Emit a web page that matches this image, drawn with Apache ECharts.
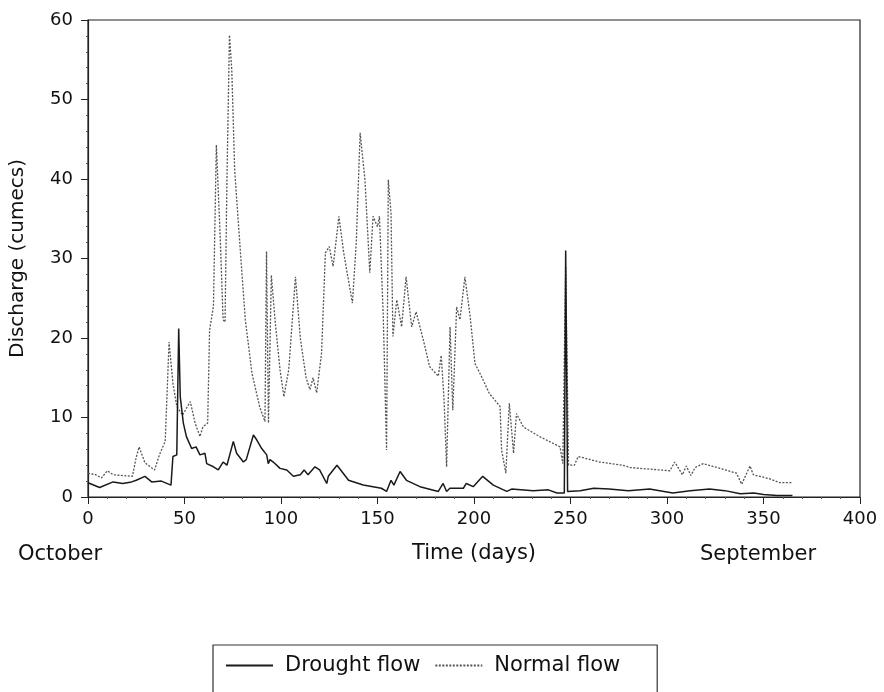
<!DOCTYPE html>
<html>
<head>
<meta charset="utf-8">
<script src="https://cdn.jsdelivr.net/npm/echarts@6/dist/echarts.min.js"></script>
<style>
  html, body { margin: 0; padding: 0; background: #fff; }
  #chart { width: 884px; height: 692px; }
</style>
</head>
<body>
<div id="chart"></div>
<script>
// day of water year (October = 0) and discharge in cumecs
const droughtDays = [0, 6, 13, 18, 22.6, 25, 29.5, 33, 38, 43, 44, 46, 47, 47.8, 49.4, 51, 53.7, 56, 58, 60.6, 61.5, 65, 67.5, 70, 72, 75.3, 77, 80.5, 82, 85.7, 87.4, 90, 92.6, 93.4, 94.3, 96, 99.5, 103, 106.4, 110, 112, 114, 117.6, 120, 123.7, 124.5, 129, 135, 142.6, 152, 154.7, 157, 158.5, 161.7, 165, 172, 181.5, 184, 185.8, 187.5, 194.5, 196, 199.6, 204.5, 210, 217, 219.5, 230.7, 238.5, 243, 246.8, 247.5, 248.5, 255, 262, 270, 280, 291, 303, 312, 322, 330, 338, 345, 350, 357, 365];
const droughtFlow = [1.8, 1.2, 1.9, 1.7, 1.9, 2.1, 2.6, 1.9, 2.0, 1.5, 5.1, 5.3, 21.2, 12.6, 9.3, 7.6, 6.1, 6.3, 5.3, 5.5, 4.2, 3.8, 3.4, 4.4, 4.0, 7.0, 5.5, 4.4, 4.7, 7.8, 7.2, 6.1, 5.3, 4.2, 4.7, 4.4, 3.6, 3.4, 2.6, 2.8, 3.4, 2.8, 3.8, 3.4, 1.7, 2.6, 4.0, 2.1, 1.5, 1.1, 0.7, 2.1, 1.5, 3.2, 2.1, 1.3, 0.7, 1.7, 0.7, 1.1, 1.1, 1.7, 1.3, 2.6, 1.5, 0.7, 1.0, 0.8, 0.9, 0.5, 0.5, 31, 0.7, 0.8, 1.1, 1.0, 0.8, 1.0, 0.5, 0.8, 1.0, 0.8, 0.4, 0.5, 0.3, 0.2, 0.2];

const normalDays = [0, 4, 7, 10, 13, 18, 23, 25, 26.5, 29.5, 34.5, 37, 40, 42, 44, 46, 49, 53, 55.5, 58, 59.5, 62, 63, 65, 66.5, 68.5, 70, 71, 72, 73.3, 74.5, 76, 79, 81.5, 85, 89, 91.7, 92.5, 93.5, 95, 97, 99.5, 101.5, 104, 107.5, 110, 113, 115, 116.6, 118.5, 121, 123, 125, 127, 130, 132.5, 137, 139, 141, 143.5, 146, 147.7, 150, 151, 153, 154.7, 155.6, 157, 158, 160, 162.5, 164.8, 167.7, 170, 174, 177, 181.5, 183, 184.5, 185.8, 187.6, 189, 191, 192.7, 195.3, 198, 200.5, 204, 208, 213.5, 214.3, 216.5, 218.3, 220.5, 222, 225.6, 234, 244.6, 246, 247.5, 249, 252, 254, 265, 277, 281, 301.5, 304, 308, 310, 312.4, 314.5, 318.8, 336, 338.7, 343, 344.7, 353, 358.5, 365];
const normalFlow = [3.0, 2.8, 2.4, 3.3, 2.8, 2.7, 2.6, 5.0, 6.3, 4.3, 3.4, 5.3, 7.0, 19.5, 14.3, 11.4, 10.3, 12.0, 9.3, 7.6, 8.8, 9.3, 21, 24, 44.3, 32.7, 22.3, 22.0, 40, 58.1, 53.7, 41.1, 30.7, 22.3, 15.5, 11.3, 9.5, 30.9, 9.3, 27.9, 22, 16, 12.6, 16, 27.7, 20, 15, 13.5, 15.0, 13.1, 18.1, 30.7, 31.5, 29, 35.3, 30.7, 24.4, 32, 45.8, 39.9, 28.2, 35.3, 34, 35.3, 22.7, 5.9, 39.9, 35.7, 20.2, 24.8, 21.4, 27.7, 21.4, 23.3, 19.5, 16.4, 15.2, 17.8, 12.2, 3.8, 21.4, 10.9, 23.9, 22.3, 27.7, 22.7, 16.8, 15.1, 13.0, 11.4, 5.9, 3.0, 11.8, 5.5, 10.5, 8.8, 7.6, 6.3, 4.2, 29, 4.0, 4.0, 5.1, 4.4, 4.0, 3.7, 3.3, 4.4, 2.8, 3.9, 2.7, 3.7, 4.2, 3.0, 1.6, 3.9, 2.8, 2.3, 1.8, 1.8];

const FONT = '"DejaVu Sans", sans-serif';

const pairs = (xs, ys) => xs.map((x, i) => [x, ys[i]]);

const chart = echarts.init(document.getElementById('chart'), null, { renderer: 'canvas' });

chart.setOption({
  animation: false,
  backgroundColor: '#fff',
  textStyle: { fontFamily: FONT, color: '#111' },
  grid: {
    left: 88, right: 24, top: 20, bottom: 195,
    show: true, borderColor: '#222', borderWidth: 1.2,
  },
  legend: {
    left: 213, top: 645,
    itemWidth: 47, itemHeight: 12, itemGap: 14,
    itemStyle: { color: 'rgba(0,0,0,0)', borderWidth: 0 },
    padding: [10, 37, 40, 12],
    borderColor: '#333', borderWidth: 1.2,
    textStyle: { fontFamily: FONT, fontSize: 21, color: '#111', padding: [0, 0, 0, 7] },
    data: ['Drought flow', 'Normal flow'],
  },
  xAxis: {
    type: 'value', min: 0, max: 400, interval: 50,
    name: 'Time (days)', nameLocation: 'middle', nameGap: 46,
    nameTextStyle: { fontFamily: FONT, fontSize: 21, color: '#111' },
    axisLine: { lineStyle: { color: '#222', width: 1.2 } },
    axisTick: { length: 7, lineStyle: { color: '#222' } },
    minorTick: { show: true, splitNumber: 5, length: 2, lineStyle: { color: '#555' } },
    axisLabel: { fontFamily: FONT, fontSize: 18, color: '#111', margin: 13 },
    splitLine: { show: false },
  },
  yAxis: {
    type: 'value', min: 0, max: 60, interval: 10,
    name: 'Discharge (cumecs)', nameLocation: 'middle', nameGap: 60,
    nameTextStyle: { fontFamily: FONT, fontSize: 20, color: '#111' },
    axisLine: { show: true, lineStyle: { color: '#222', width: 1.2 } },
    axisTick: { show: true, length: 7, lineStyle: { color: '#222' } },
    minorTick: { show: true, splitNumber: 5, length: 2, lineStyle: { color: '#555' } },
    axisLabel: { fontFamily: FONT, fontSize: 18, color: '#111', margin: 15 },
    splitLine: { show: false },
  },
  graphic: [
    { type: 'text', left: 18, top: 544, style: { text: 'October', font: '21px ' + FONT, fill: '#111' } },
    { type: 'text', left: 700, top: 544, style: { text: 'September', font: '21px ' + FONT, fill: '#111' } },
  ],
  series: [
    {
      name: 'Drought flow', type: 'line', showSymbol: false, symbol: 'none',
      data: pairs(droughtDays, droughtFlow),
      lineStyle: { color: '#1a1a1a', width: 1.5 },
      itemStyle: { color: '#1a1a1a' },
      z: 3,
    },
    {
      name: 'Normal flow', type: 'line', showSymbol: false, symbol: 'none',
      data: pairs(normalDays, normalFlow),
      lineStyle: { color: '#555', width: 1.3, type: [2, 1.5] },
      itemStyle: { color: '#555' },
      z: 2,
    },
  ],
});
</script>
</body>
</html>
